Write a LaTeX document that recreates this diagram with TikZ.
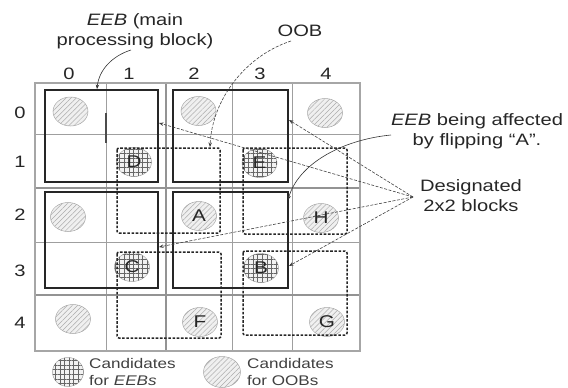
\documentclass[tikz,border=0pt]{standalone}
\usepackage{fontspec}
\setmainfont{Liberation Sans}[FakeStretch=1.22]
\usetikzlibrary{patterns.meta,arrows.meta,shapes.geometric}
\begin{document}
\begin{tikzpicture}[x=1pt,y=-1pt,
  lbl/.style={font=\fontsize{16.5}{20}\selectfont, text=black!85, inner sep=0pt, align=center},
  leg/.style={font=\fontsize{14}{17}\selectfont, text=black!75, inner sep=0pt, align=left, anchor=west},
  gridl/.style={draw=gray!75, line width=0.8pt},
  gridm/.style={draw=gray!85, line width=1.5pt},
  eeb/.style={draw=black!85, line width=2.2pt},
  dblk/.style={draw=black!85, line width=1.5pt, dash pattern=on 2.6pt off 1.6pt, rounded corners=2pt},
  oobc/.style={ellipse, inner sep=0pt, minimum width=35pt, minimum height=29pt, draw=gray!70, line width=0.5pt, fill=gray!12,
    postaction={pattern={Lines[angle=45,distance=3.6pt,line width=0.5pt]}, pattern color=gray!65},
    font=\fontsize{17}{17}\selectfont, text=black!85},
  eebc/.style={ellipse, inner sep=0pt, minimum width=35pt, minimum height=29pt, draw=gray!70, line width=0.5pt, fill=gray!10,
    postaction={pattern={Hatch[angle=0,distance=4.6pt,line width=0.5pt]}, pattern color=black!60},
    font=\fontsize{17}{17}\selectfont, text=black!85},
  tip/.style={-{Stealth[length=4.5pt,width=3.5pt]}},
  lead/.style={draw=black!80, line width=0.6pt},
  dlead/.style={draw=black!75, line width=0.6pt, dash pattern=on 3pt off 1.5pt}
]
\useasboundingbox (0,0) rectangle (568,388);

% grid
\foreach \x in {106,232,292} \draw[gridl] (\x,83) -- (\x,351);
\foreach \y in {134,242} \draw[gridl] (35,\y) -- (360,\y);
\draw[gridm] (166,83) -- (166,351);
\foreach \y in {188,295} \draw[gridm] (35,\y) -- (360,\y);
\draw[draw=gray!70, line width=2.2pt] (35,83) rectangle (360,351);
\draw[draw=gray!60!black, line width=1.6pt] (106,113) -- (106,143);

% labels of columns and rows
\foreach \x/\t [count=\i] in {69/0,129/1,194/2,260/3,326/4}
  \node[lbl] (col\i) at (\x,74) {\t};
\foreach \y/\t [count=\i] in {113/0,162/1,215/2,271/3,323/4}
  \node[lbl] (row\i) at (20,\y) {\t};

% circles
\node[oobc] (o1) at (70.5,111.5) {};
\node[oobc] (o2) at (198.5,111) {};
\node[oobc] (o3) at (325,113) {};
\node[oobc] (o4) at (68,217) {};
\node[oobc] (o5) at (73,319) {};
\node[oobc] (cA) at (199,216) {A};
\node[oobc] (cF) at (200,322) {F};
\node[oobc] (cG) at (327,322) {G};
\node[oobc] (cH) at (321,218) {H};
\node[eebc] (cD) at (134,162) {D};
\node[eebc] (cE) at (259.5,163) {E};
\node[eebc] (cC) at (132,267) {C};
\node[eebc] (cB) at (261,268) {B};

% designated 2x2 blocks (dotted)
\draw[dblk] (117,148) rectangle (220,233);
\draw[dblk] (243,148) rectangle (347,234);
\draw[dblk] (117,252) rectangle (221,338);
\draw[dblk] (243,251) rectangle (347,335);

% EEB blocks (thick)
\draw[eeb] (45,90) rectangle (158,182);
\draw[eeb] (173,90) rectangle (288,182);
\draw[eeb] (45,192) rectangle (158,288);
\draw[eeb] (173,192) rectangle (288,288);

% texts
\node[lbl] (teeb) at (135,31) {\textit{EEB} (main\\processing block)};
\node[lbl] (toob) at (300,31) {OOB};
\node[lbl] (taff) at (477,131) {\textit{EEB} being affected\\by flipping ``A''.};
\node[lbl] (tdes) at (471,196) {Designated\\2x2 blocks};

% annotation connectors
\coordinate (eebs) at (131,50);
\coordinate (eebt) at (97,89);
\draw[lead,tip] (eebs) .. controls (112,56) and (99,70) .. (eebt);
\coordinate (oobs) at (291,41);
\coordinate (oobt) at (210,147);
\draw[dlead,tip] (oobs) .. controls (245,56) and (212,100) .. (oobt);
\coordinate (affs) at (391,135);
\coordinate (afft) at (288,200);
\draw[lead,tip] (affs) .. controls (340,140) and (298,165) .. (afft);
\coordinate (dz) at (413,197);
\coordinate (t1) at (159,123);
\coordinate (t2) at (289,120);
\coordinate (t3) at (159,247);
\coordinate (t4) at (289,266);
\foreach \t in {t1,t2,t3,t4} \draw[dlead,tip] (dz) -- (\t);

% legend
\node[eebc, minimum width=31pt, minimum height=29pt] (le) at (68,372) {};
\node[leg] (lte) at (89,372) {Candidates\\for \textit{EEBs}};
\node[oobc, minimum width=37pt, minimum height=31pt] (lo) at (222,372) {};
\node[leg] (lto) at (247,372) {Candidates\\for OOBs};
\end{tikzpicture}
\end{document}
